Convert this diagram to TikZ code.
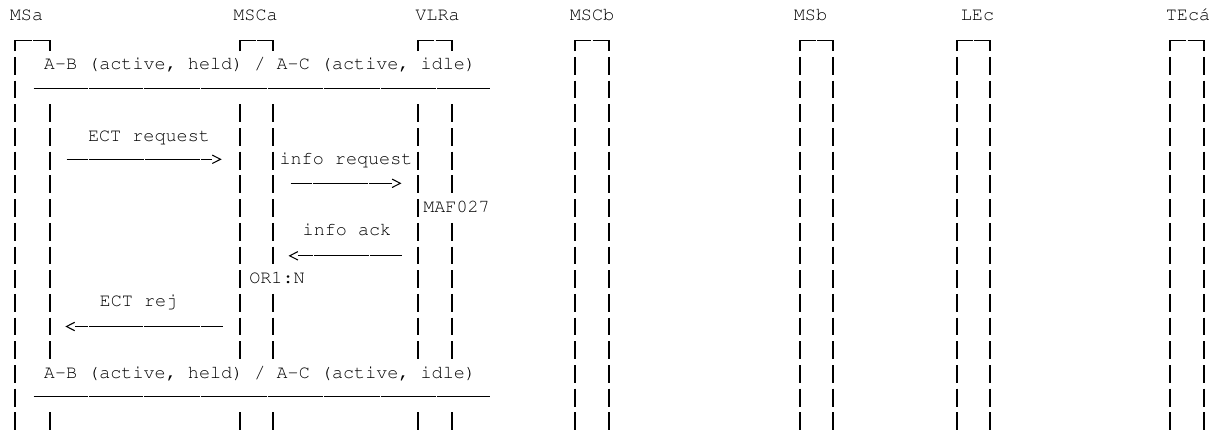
\documentclass[tikz,border=0pt]{standalone}
\usepackage[T1]{fontenc}
\newcommand{\monofnt}{\fontencoding{T1}\fontfamily{pcr}\selectfont}
\usetikzlibrary{calc}
\newcommand{\rowy}[1]{(18.5+23.7*#1)}
\newcommand{\barseg}[2]{\draw[bar] (#1,{\rowy{#2}-9}) -- (#1,{\rowy{#2}+8.8});}
\newcommand{\lltop}[2]{%
  \draw[bar] (#1,51) -- (#1,40.5) -- ({(#1+#2)/2-0.6},40.5);
  \draw[bar] ({(#1+#2)/2+0.6},40.5) -- (#2,40.5) -- (#2,51);}
\newcommand{\hsegs}[2]{\foreach \a/\b in {#2} {\draw[hl] ({\a+0.5},#1) -- ({\b-0.5},#1);}}
\begin{document}
\begin{tikzpicture}[x=0.75pt,y=-0.75pt,
  lbl/.style={font=\monofnt\fontsize{13.85pt}{16pt}\selectfont, anchor=base, inner sep=0pt, text=black},
  bar/.style={line width=0.95pt, black},
  hl/.style={line width=0.8pt, black},
  tipr/.style={hl, line join=miter}]
\useasboundingbox (0,0) rectangle (1215,432);

% lifeline heads
\node[lbl] (hMSa)  at (26.5,21) {MSa};
\node[lbl] (hMSCa) at (255.5,21) {MSCa};
\node[lbl] (hVLRa) at (437.5,21) {VLRa};
\node[lbl] (hMSCb) at (592,21) {MSCb};
\node[lbl] (hMSb)  at (810.5,21) {MSb};
\node[lbl] (hLEc)  at (977.5,21) {LEc};
\node[lbl] (hTEc)  at (1188,21) {TEcá};

% box tops
\lltop{15}{50}
\lltop{240}{273}
\lltop{418}{452}
\lltop{575}{609}
\lltop{800}{833}
\lltop{957}{990}
\lltop{1170}{1204}

% lifeline bars
\foreach \x in {15,575,609,800,833,957,990,1170,1204}
  \foreach \r in {2,3,4,5,6,7,8,9,10,11,12,13,14,15,16,17} {\barseg{\x}{\r}}
\foreach \x in {50,240,418}
  \foreach \r in {4,5,6,7,8,9,10,11,12,13,14,17} {\barseg{\x}{\r}}
\foreach \r in {4,5,6,7,8,9,10,12,13,14,17} {\barseg{273}{\r}}
\foreach \r in {4,5,6,7,9,10,11,12,13,14,17} {\barseg{452}{\r}}

% state condition (top)
\node[lbl] (st1) at (260,{\rowy{2}+4}) {A-B (active, held) / A-C (active, idle)};
\hsegs{88.2}{33/88.3,88.3/143.3,143.3/200,200/267,267/323.3,323.3/380,380/436,436/490}

% ECT request
\node[lbl] (m1) at (149,{\rowy{5}+4}) {ECT request};
\coordinate (m1s) at (66,159.3);
\coordinate (m1e) at (220.5,159.3);
\hsegs{159.3}{66/88.3,88.3/144.3,144.3/200.7,200.7/212.5}
\draw[tipr] ($(m1e)+(-8.2,-4.2)$) -- (m1e) -- ($(m1e)+(-8.2,4.2)$);

% info request
\node[lbl] (m2) at (346,{\rowy{6}+4}) {info request};
\coordinate (m2s) at (290,183.3);
\coordinate (m2e) at (400.3,183.3);
\hsegs{183.3}{290/312.7,312.7/368.7,368.7/392.5}
\draw[tipr] ($(m2e)+(-8.2,-4.2)$) -- (m2e) -- ($(m2e)+(-8.2,4.2)$);

% MAF027
\node[lbl] (a1) at (456.5,{\rowy{8}+4}) {MAF027};

% info ack
\node[lbl] (m3) at (347,{\rowy{9}+4}) {info ack};
\coordinate (m3e) at (289.7,255.8);
\coordinate (m3s) at (402,255.8);
\draw[tipr] ($(m3e)+(8.2,-4.2)$) -- (m3e) -- ($(m3e)+(8.2,4.2)$);
\hsegs{255.8}{297.5/313.3,313.3/369.3,369.3/402}

% OR1:N
\node[lbl] (a2) at (277,{\rowy{11}+4}) {OR1:N};

% ECT rej
\node[lbl] (m4) at (138.5,{\rowy{12}+4}) {ECT rej};
\coordinate (m4e) at (66.5,326.5);
\coordinate (m4s) at (223,326.5);
\draw[tipr] ($(m4e)+(8.2,-4.2)$) -- (m4e) -- ($(m4e)+(8.2,4.2)$);
\hsegs{326.5}{74.5/88.5,88.5/143.8,143.8/200.3,200.3/223}

% state condition (bottom)
\node[lbl] (st2) at (260,{\rowy{15}+4}) {A-B (active, held) / A-C (active, idle)};
\hsegs{396.7}{33/88.3,88.3/143.3,143.3/200,200/267,267/323.3,323.3/380,380/436,436/490}
\end{tikzpicture}
\end{document}
